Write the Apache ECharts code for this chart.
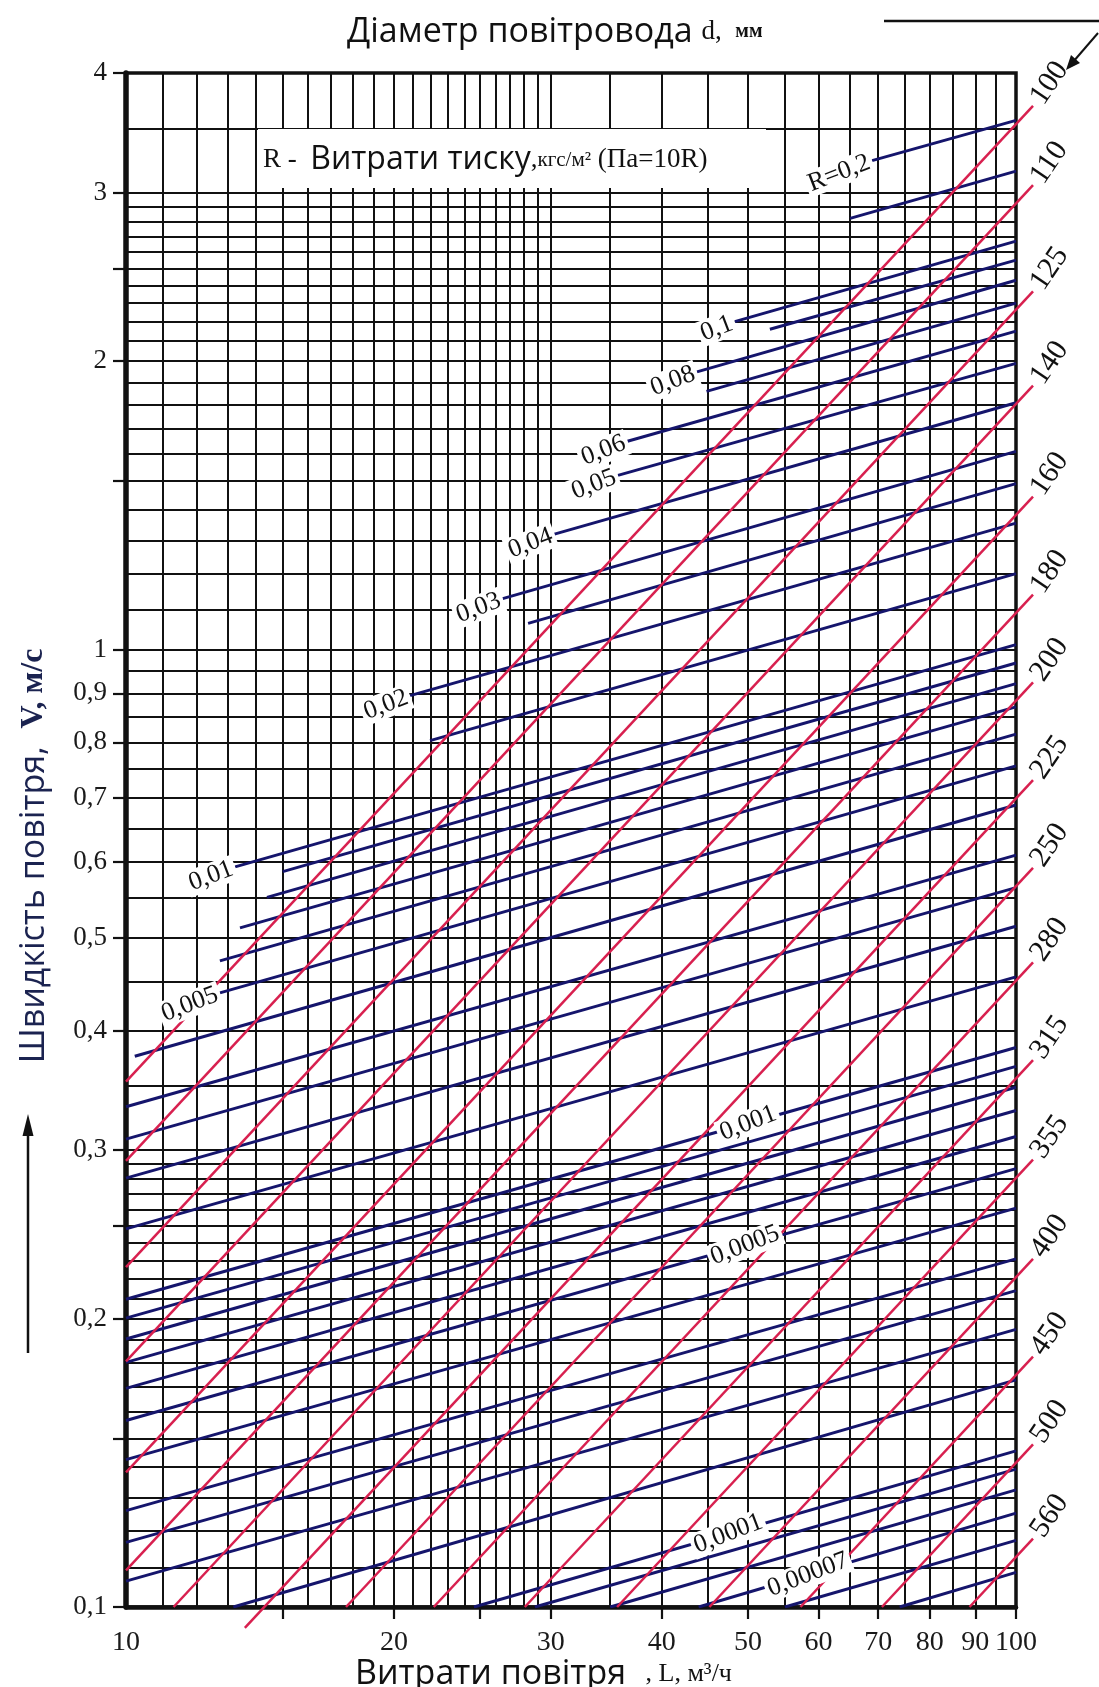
<!DOCTYPE html>
<html lang="uk">
<head>
<meta charset="utf-8">
<title>Номограма для розрахунку круглих повітроводів</title>
<script src="https://cdn.jsdelivr.net/npm/echarts@6.0.0/dist/echarts.min.js"></script>
<style>
html, body { margin: 0; padding: 0; background: #fff; }
#chart { width: 1099px; height: 1687px; }
</style>
</head>
<body>
<div id="chart"></div>
<script>
// ---------- axis ticks and labels ----------
const xLabelValues = [10, 20, 30, 40, 50, 60, 70, 80, 90, 100];
const xTickValues = [15, 20, 25, 30, 40, 50, 60, 70, 80, 90, 100];
const yLabelValues = [0.1, 0.2, 0.3, 0.4, 0.5, 0.6, 0.7, 0.8, 0.9, 1, 2, 3, 4];
const yTickValues = [0.1, 0.15, 0.2, 0.25, 0.3, 0.4, 0.5, 0.6, 0.7, 0.8, 0.9, 1, 1.5, 2, 2.5, 3, 4];

// ---------- nomogram paper grid ----------
const xGridValues = [11, 12, 13, 14, 15, 16, 17, 18, 19, 20, 21, 22, 23, 24, 25, 26, 27, 28, 29,
  30, 35, 40, 45, 50, 55, 60, 65, 70, 75, 80, 85, 90, 95];
const yGridValues = [0.11, 0.12, 0.13, 0.14, 0.15, 0.16, 0.17, 0.18, 0.19, 0.2,
  0.21, 0.22, 0.23, 0.24, 0.25, 0.26, 0.27, 0.28, 0.29, 0.3,
  0.35, 0.4, 0.45, 0.5, 0.55, 0.6, 0.65, 0.7, 0.75, 0.8, 0.85, 0.9, 0.95,
  1, 1.1, 1.2, 1.3, 1.4, 1.5, 1.6, 1.7, 1.8, 1.9,
  2, 2.1, 2.2, 2.3, 2.4, 2.5, 2.6, 2.7, 2.8, 2.9, 3, 3.5];

// ---------- duct diameter lines (mm): start point and velocity at L = 100 ----------
const diameters = [100, 110, 125, 140, 160, 180, 200, 225, 250, 280, 315, 355, 400, 450, 500, 560];
const diameterStartL = [10, 10, 10, 10, 10, 10, 11.31, 13.6, 17.67, 22.17, 28.06, 35.63, 45.24, 57.26, 70.69, 88.67];
const diameterStartV = [0.3537, 0.2923, 0.2264, 0.1805, 0.1382, 0.1092, 0.1, 0.0951, 0.1, 0.1, 0.1, 0.1, 0.1, 0.1, 0.1, 0.1];
const diameterEndV = [3.537, 2.923, 2.264, 1.805, 1.382, 1.092, 0.884, 0.699, 0.566, 0.451, 0.3564, 0.2806, 0.221, 0.1747, 0.1415, 0.1128];

// ---------- friction loss lines R, kgf/m2 per m: start point and velocity at L = 100 ----------
const lossR = [0.2, 0.15, 0.1, 0.09, 0.08, 0.07, 0.06, 0.05, 0.04, 0.03, 0.025, 0.02, 0.015,
  0.01, 0.009, 0.008, 0.007, 0.006, 0.005, 0.004, 0.003, 0.0025, 0.002, 0.0015,
  0.001, 0.0009, 0.0008, 0.0007, 0.0006, 0.0005, 0.0004, 0.0003, 0.00025, 0.0002,
  0.00015, 0.0001, 0.00009, 0.00008, 0.00007, 0.00006, 0.00005];
const lossStartL = [68.9, 65.1, 48.3, 52.9, 43.8, 44.9, 36.6, 35.7, 30.3, 26.5, 28.3, 20.85, 21.96,
  13.26, 15.0, 14.4, 13.43, 12.75, 12.75, 10.23, 10, 10, 10, 10,
  10, 10, 10, 10, 10, 10, 10, 10, 10, 10,
  13.2, 24.6, 28.8, 35.0, 44.0, 55.0, 74.0];
const lossStartV = [3.24, 2.82, 2.20, 2.16, 1.95, 1.86, 1.65, 1.52, 1.32, 1.13, 1.065, 0.895, 0.803,
  0.593, 0.586, 0.551, 0.512, 0.473, 0.438, 0.376, 0.333, 0.308, 0.2805, 0.2483,
  0.2096, 0.2003, 0.1905, 0.1801, 0.1692, 0.1566, 0.1425, 0.1261, 0.1168, 0.1064,
  0.1, 0.1, 0.1, 0.1, 0.1, 0.1, 0.1];
const lossEndV = [3.57, 3.16, 2.67, 2.55, 2.43, 2.30, 2.15, 1.99, 1.81, 1.61, 1.49, 1.355, 1.20,
  1.012, 0.968, 0.921, 0.871, 0.816, 0.756, 0.688, 0.610, 0.564, 0.514, 0.455,
  0.384, 0.367, 0.349, 0.330, 0.310, 0.287, 0.261, 0.231, 0.214, 0.195,
  0.1727, 0.1456, 0.1393, 0.1325, 0.1253, 0.1174, 0.1087];

// labelled loss lines: label text, R of the line, flow where an inline label sits (null = at line start)
const lossLabelText = ['R=0,2', '0,1', '0,08', '0,06', '0,05', '0,04', '0,03', '0,02', '0,01', '0,005',
  '0,001', '0,0005', '0,0001', '0,00007'];
const lossLabelR = [0.2, 0.1, 0.08, 0.06, 0.05, 0.04, 0.03, 0.02, 0.01, 0.005, 0.001, 0.0005, 0.0001, 0.00007];
const lossLabelInlineL = [null, null, null, null, null, null, null, null, null, null, 50.0, 49.6, 47.5, 58.4];

// ---------- drawing ----------
const SERIF = '"Liberation Serif", "Times New Roman", serif';
const SANS = '"Open Sans", "Noto Sans", sans-serif';
const fmt = v => String(+(+v).toPrecision(6)).replace('.', ',');
const X_MIN = 10, X_MAX = 100, Y_MIN = 0.1, Y_MAX = 4;
const EXT = 1.045; // diameter lines run slightly past the right frame

const chart = echarts.init(document.getElementById('chart'), null, { renderer: 'canvas' });

const gridLines = [];
xGridValues.forEach(x => gridLines.push({ coords: [[x, Y_MIN], [x, Y_MAX]] }));
yGridValues.forEach(y => gridLines.push({ coords: [[X_MIN, y], [X_MAX, y]] }));

const lossLines = lossR.map((r, i) => ({
  name: String(r),
  coords: [[lossStartL[i], lossStartV[i]], [X_MAX, lossEndV[i]]]
}));

const diameterLines = diameters.map((d, i) => ({
  name: String(d),
  coords: [[diameterStartL[i], diameterStartV[i]], [X_MAX * EXT, diameterEndV[i] * EXT]]
}));

chart.setOption({
  animation: false,
  backgroundColor: '#fff',
  grid: { left: 126, right: 83, top: 73, bottom: 80, show: true, borderColor: '#111', borderWidth: 3.5, backgroundColor: 'transparent' },
  xAxis: {
    type: 'log', logBase: 10, min: X_MIN, max: X_MAX,
    axisLine: { show: true, onZero: false, lineStyle: { color: '#111', width: 4.5 } },
    axisTick: { show: true, inside: false, length: 12, lineStyle: { color: '#111', width: 2.2 }, customValues: xTickValues },
    axisLabel: { show: true, customValues: xLabelValues, margin: 22, fontFamily: SERIF, fontSize: 28, color: '#1a1a1a', formatter: v => fmt(v) },
    splitLine: { show: false }
  },
  yAxis: {
    type: 'log', logBase: 10, min: Y_MIN, max: Y_MAX,
    axisLine: { show: true, onZero: false, lineStyle: { color: '#111', width: 5.5 } },
    axisTick: { show: true, inside: false, length: 13, lineStyle: { color: '#111', width: 2.2 }, customValues: yTickValues },
    axisLabel: { show: true, customValues: yLabelValues, margin: 19, fontFamily: SERIF, fontSize: 27, color: '#1a1a1a', formatter: v => fmt(v) },
    splitLine: { show: false }
  },
  series: [
    {
      type: 'lines', coordinateSystem: 'cartesian2d', z: 1, silent: true, clip: true,
      lineStyle: { color: '#111', width: 2, opacity: 1 },
      data: gridLines
    },
    {
      type: 'lines', coordinateSystem: 'cartesian2d', z: 3, silent: true, clip: true,
      lineStyle: { color: '#15156c', width: 2.9, opacity: 1 },
      data: lossLines
    },
    {
      type: 'lines', coordinateSystem: 'cartesian2d', z: 4, silent: true, clip: false,
      lineStyle: { color: '#d8204f', width: 2.5, opacity: 1 },
      data: diameterLines
    }
  ]
});

// ---------- texts placed through the axes ----------
const toPx = p => chart.convertToPixel({ gridIndex: 0 }, p);
const deg = a => a * Math.PI / 180;

function lossValueAt(i, L) {
  const l0 = Math.log10(lossStartL[i]), l1 = Math.log10(X_MAX);
  const v0 = Math.log10(lossStartV[i]), v1 = Math.log10(lossEndV[i]);
  return Math.pow(10, v0 + (v1 - v0) * (Math.log10(L) - l0) / (l1 - l0));
}

const graphics = [];

// loss line labels
lossLabelText.forEach((t, k) => {
  const i = lossR.indexOf(lossLabelR[k]);
  const inline = lossLabelInlineL[k] !== null;
  const L = inline ? lossLabelInlineL[k] : lossStartL[i];
  const V = inline ? lossValueAt(i, L) : lossStartV[i];
  const p = toPx([L, V]);
  graphics.push({
    type: 'text', x: p[0], y: p[1], rotation: deg(21), z: 60,
    style: {
      text: t, font: '26px ' + SERIF, fill: '#111',
      align: inline ? 'center' : 'right', verticalAlign: 'middle',
      backgroundColor: '#fff', padding: [0, 3, 0, 3]
    }
  });
});

// diameter labels beyond the right frame
diameters.forEach((d, i) => {
  const p = toPx([X_MAX * EXT, diameterEndV[i] * EXT]);
  graphics.push({
    type: 'text', x: p[0] + 4, y: p[1] - 4, rotation: deg(56), z: 60,
    style: { text: String(d), font: '30px ' + SERIF, fill: '#111', align: 'left', verticalAlign: 'middle' }
  });
});

// chart titles
graphics.push(
  {
    type: 'text', x: 347, y: 32, z: 60,
    style: {
      text: '{a|Діаметр повітровода }{b|d,  }{c|мм}', align: 'left', verticalAlign: 'middle',
      rich: {
        a: { font: '34px ' + SANS, fill: '#111' },
        b: { font: '27px ' + SERIF, fill: '#111' },
        c: { font: 'bold 20px ' + SERIF, fill: '#111' }
      }
    }
  },
  { type: 'line', z: 60, shape: { x1: 884, y1: 21, x2: 1099, y2: 21 }, style: { stroke: '#111', lineWidth: 2.5 } },
  { type: 'line', z: 60, shape: { x1: 1098, y1: 33, x2: 1073, y2: 62 }, style: { stroke: '#111', lineWidth: 2 } },
  { type: 'polygon', z: 60, shape: { points: [[1066, 70], [1080, 63], [1071, 55]] }, style: { fill: '#111' } },
  // pressure-loss caption box
  { type: 'rect', z: 55, shape: { x: 258, y: 129, width: 508, height: 59 }, style: { fill: '#fff' } },
  {
    type: 'text', x: 263, y: 160, z: 60,
    style: {
      text: '{s|R -  }{a|Витрати тиску}{s|,}{b|кгс/м²}{s| (Па=10R)}', align: 'left', verticalAlign: 'middle',
      rich: {
        s: { font: '27px ' + SERIF, fill: '#111' },
        a: { font: '32px ' + SANS, fill: '#111' },
        b: { font: '21px ' + SERIF, fill: '#111' }
      }
    }
  },
  // velocity axis title with arrow
  {
    type: 'text', x: 34, y: 856, rotation: deg(90), z: 60,
    style: {
      text: '{a|Швидкість повітря,  }{b|V, м/с}', align: 'center', verticalAlign: 'middle',
      rich: {
        a: { font: '34px ' + SANS, fill: '#1b2350' },
        b: { font: 'bold 32px ' + SERIF, fill: '#1b2350' }
      }
    }
  },
  { type: 'line', z: 60, shape: { x1: 28, y1: 1353, x2: 28, y2: 1130 }, style: { stroke: '#111', lineWidth: 2.5 } },
  { type: 'polygon', z: 60, shape: { points: [[28, 1114], [22.5, 1136], [33.5, 1136]] }, style: { fill: '#111' } },
  // flow axis title
  {
    type: 'text', x: 355, y: 1674, z: 60,
    style: {
      text: '{a|Витрати повітря}{b|   , L, м³/ч}', align: 'left', verticalAlign: 'middle',
      rich: {
        a: { font: '34px ' + SANS, fill: '#111' },
        b: { font: '26px ' + SERIF, fill: '#111' }
      }
    }
  }
);

chart.setOption({ graphic: graphics });
</script>
</body>
</html>
